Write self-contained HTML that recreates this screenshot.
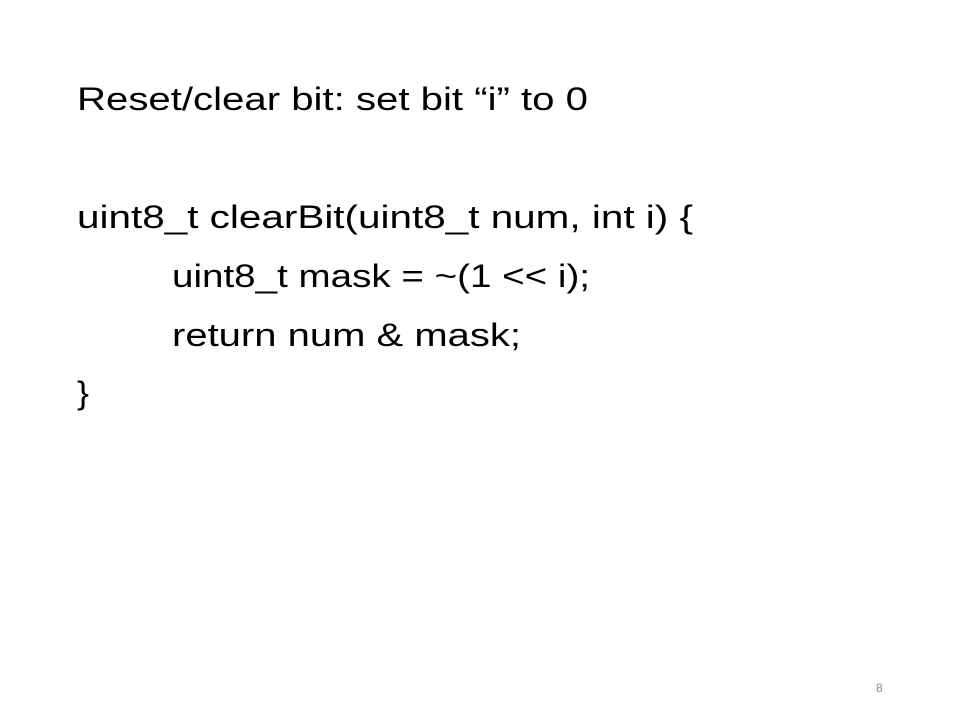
<!DOCTYPE html>
<html><head><meta charset="utf-8"><style>
html,body{margin:0;padding:0;background:#fff;}
svg{display:block;}
text{font-family:"Liberation Sans",sans-serif;fill:#000;}
</style></head><body>
<svg width="960" height="720" viewBox="0 0 960 720" xmlns="http://www.w3.org/2000/svg">
<rect width="960" height="720" fill="#fff"/>
<text x="77" y="110" font-size="32" textLength="511" lengthAdjust="spacingAndGlyphs">Reset/clear bit: set bit “i” to 0</text>
<text x="77" y="228" font-size="32" textLength="616" lengthAdjust="spacingAndGlyphs">uint8_t clearBit(uint8_t num, int i) {</text>
<text x="172" y="287" font-size="32" textLength="418" lengthAdjust="spacingAndGlyphs">uint8_t mask = ~(1 &lt;&lt; i);</text>
<text x="172" y="346" font-size="32" textLength="349" lengthAdjust="spacingAndGlyphs">return num &amp; mask;</text>
<text x="77" y="404" font-size="32" textLength="12" lengthAdjust="spacingAndGlyphs">}</text>
<text x="876" y="692" font-size="12" fill="#888" style="fill:#8a8a8a">8</text>
</svg>
</body></html>
